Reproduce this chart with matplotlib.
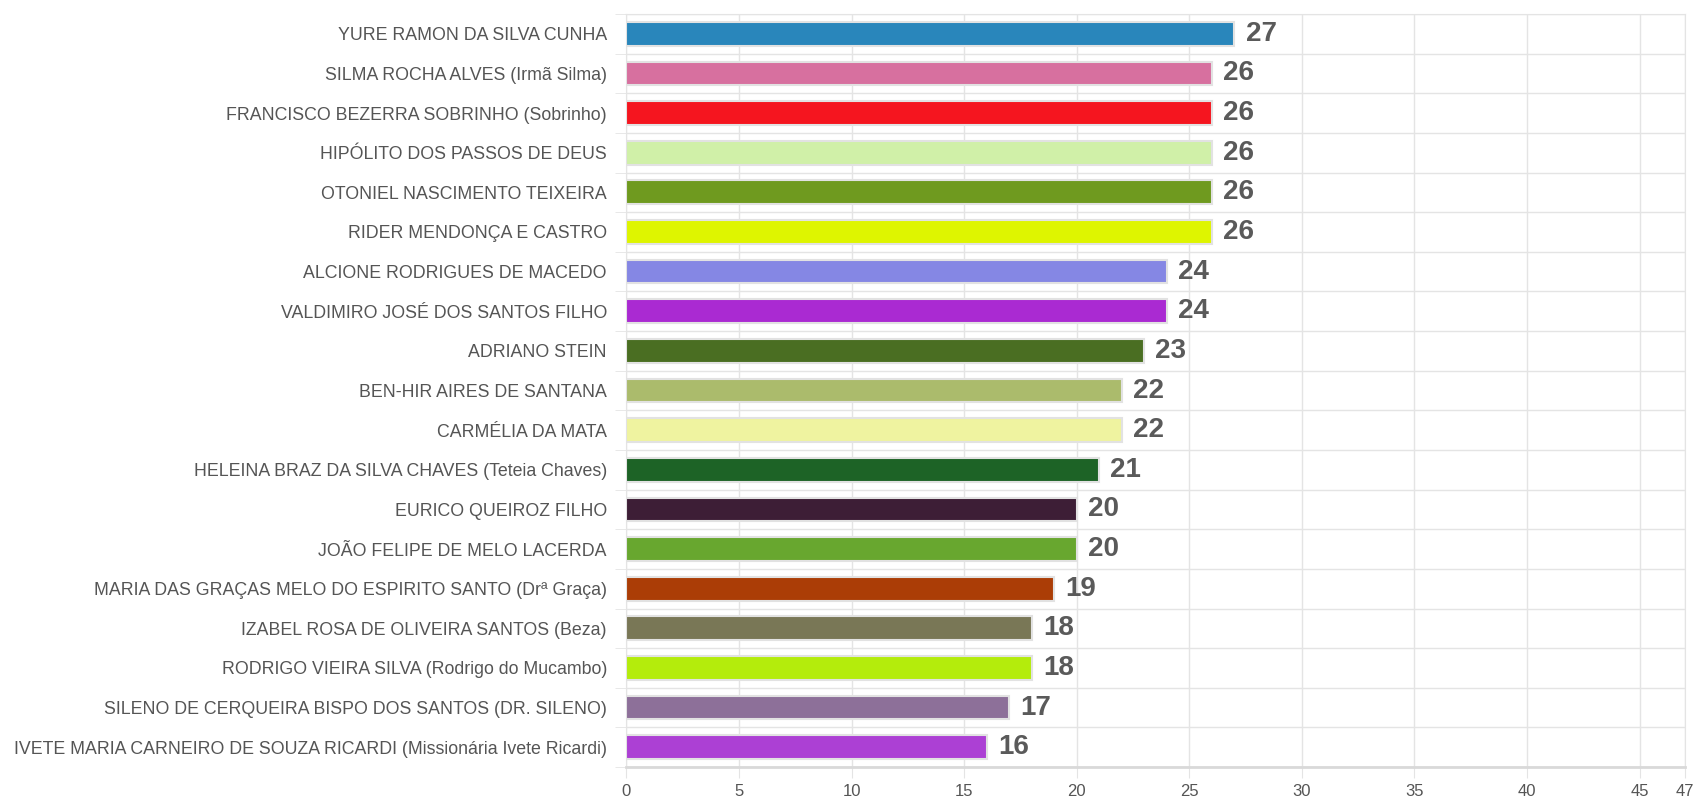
import matplotlib.pyplot as plt
import numpy as np

names = [
    "YURE RAMON DA SILVA CUNHA",
    "SILMA ROCHA ALVES (Irmã Silma)",
    "FRANCISCO BEZERRA SOBRINHO (Sobrinho)",
    "HIPÓLITO DOS PASSOS DE DEUS",
    "OTONIEL NASCIMENTO TEIXEIRA",
    "RIDER MENDONÇA E CASTRO",
    "ALCIONE RODRIGUES DE MACEDO",
    "VALDIMIRO JOSÉ DOS SANTOS FILHO",
    "ADRIANO STEIN",
    "BEN-HIR AIRES DE SANTANA",
    "CARMÉLIA DA MATA",
    "HELEINA BRAZ DA SILVA CHAVES (Teteia Chaves)",
    "EURICO QUEIROZ FILHO",
    "JOÃO FELIPE DE MELO LACERDA",
    "MARIA DAS GRAÇAS MELO DO ESPIRITO SANTO (Drª Graça)",
    "IZABEL ROSA DE OLIVEIRA SANTOS (Beza)",
    "RODRIGO VIEIRA SILVA (Rodrigo do Mucambo)",
    "SILENO DE CERQUEIRA BISPO DOS SANTOS (DR. SILENO)",
    "IVETE MARIA CARNEIRO DE SOUZA RICARDI (Missionária Ivete Ricardi)",
]
votes = [27, 26, 26, 26, 26, 26, 24, 24, 23, 22, 22, 21, 20, 20, 19, 18, 18, 17, 16]
colors = ["#2986bb", "#d7709f", "#f5151f", "#d0f0a8", "#6f9a1f", "#def500",
          "#8587e4", "#aa2ad2", "#4a6e22", "#abbb6c", "#eff3a0", "#1d6326",
          "#3d1e36", "#68a72f", "#ab3d06", "#797756", "#b4ec0c", "#8d7099",
          "#ac40d4"]
xticks = [0, 5, 10, 15, 20, 25, 30, 35, 40, 45, 47]

font = ["Liberation Sans", "DejaVu Sans"]

fig = plt.figure(figsize=(16.93, 7.99), dpi=100)
ax = fig.add_axes([0.370, 0.040, 0.625, 0.9425])

y = np.arange(len(names))
ax.barh(y, votes, height=0.6, color=colors, edgecolor="#e2e2e2", linewidth=1.5, zorder=3)

# value labels next to each bar
for yi, v in zip(y, votes):
    ax.text(v + 0.5, yi, str(v), va="center", ha="left", fontsize=20,
            fontweight="bold", color="#5a5a5a", family=font)

ax.set_xlim(0, 47)
ax.set_ylim(len(names) - 0.5, -0.5)
ax.set_xticks(xticks)
ax.set_yticks(y)
ax.set_yticklabels(names)
ax.set_yticks(np.arange(-0.5, len(names), 1), minor=True)
ax.tick_params(axis="y", which="major", length=0, pad=14, labelsize=12.8, labelcolor="#555555")
ax.tick_params(axis="y", which="minor", length=8, color="#e4e4e4")
ax.tick_params(axis="x", length=8, color="#e4e4e4", labelsize=12, labelcolor="#555555", pad=4)
for lbl in ax.get_xticklabels() + ax.get_yticklabels():
    lbl.set_family(font)

ax.grid(axis="x", color="#e4e4e4", linewidth=1, zorder=0)
ax.grid(axis="y", which="minor", color="#e4e4e4", linewidth=1, zorder=0)
for s in ["top", "right", "left"]:
    ax.spines[s].set_color("#e4e4e4")
ax.spines["bottom"].set_color("#d9d9d9")
ax.spines["bottom"].set_linewidth(2)

fig.savefig("out.png", dpi=100)
